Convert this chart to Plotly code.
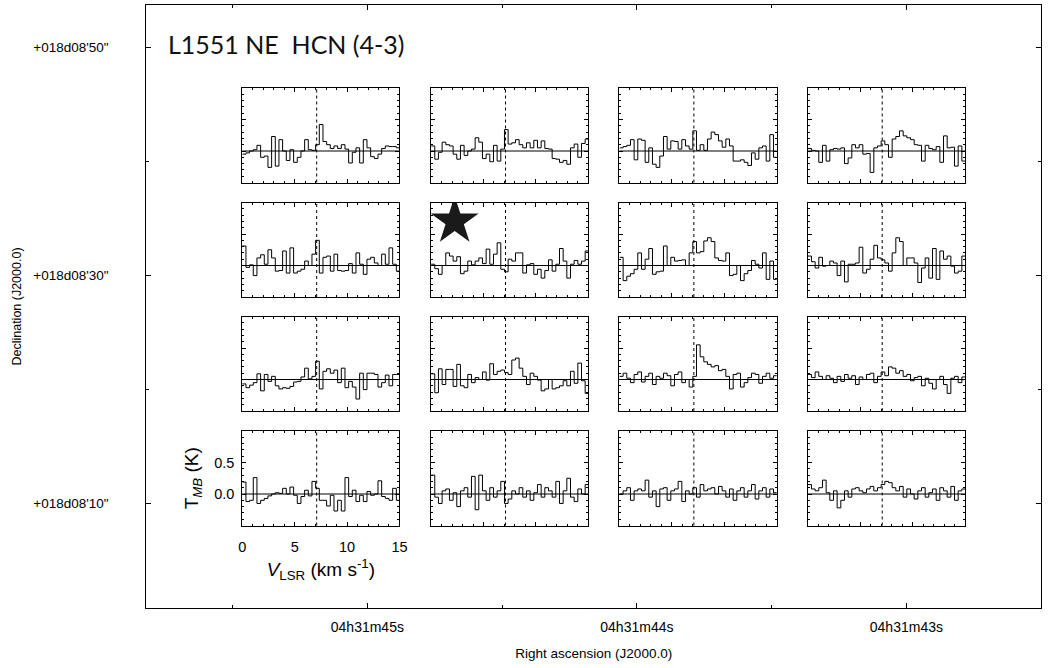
import numpy as np
import plotly.graph_objects as go

# ---- spectra: HCN (4-3) main-beam temperature (K), 0.35 km/s channels from 0 km/s ----
chan_width = 0.35
v_sys = 7.1

spec_r1c1 = [-0.05, -0.03, 0.00, 0.02, 0.09, -0.10, -0.08, -0.26, 0.23, -0.24, 0.18, 0.00, -0.15, 0.02,
             -0.18, -0.10, 0.00, 0.18, 0.02, 0.01, 0.10, 0.42, 0.15, 0.10, 0.04, 0.08, 0.04, 0.10, 0.03,
             -0.19, -0.02, 0.05, -0.19, 0.18, 0.05, -0.09, -0.12, -0.05, 0.04, 0.08, 0.07, 0.07, 0.05]
spec_r1c2 = [0.08, -0.13, -0.02, 0.14, 0.10, 0.08, -0.05, -0.13, 0.09, -0.07, 0.00, 0.03, 0.21, 0.14,
             -0.12, -0.05, -0.17, 0.09, -0.16, 0.03, 0.34, 0.11, 0.13, 0.18, 0.10, 0.05, 0.13, 0.05, 0.17,
             0.05, 0.16, 0.04, 0.03, -0.12, -0.13, -0.18, -0.15, -0.21, 0.05, 0.11, -0.10, 0.12, 0.19]
spec_r1c3 = [0.05, 0.07, 0.09, 0.18, -0.14, 0.19, 0.17, -0.18, 0.05, -0.21, -0.26, -0.08, 0.23, 0.03,
             0.16, 0.15, 0.03, 0.18, 0.08, 0.03, 0.32, 0.01, 0.10, 0.01, 0.19, 0.30, 0.26, 0.16, 0.06,
             0.19, 0.08, -0.16, -0.16, -0.14, -0.18, -0.23, -0.03, -0.13, 0.05, 0.08, -0.16, 0.26, -0.10]
spec_r1c4 = [0.04, 0.01, 0.00, -0.18, 0.09, -0.16, 0.02, 0.04, 0.03, 0.05, -0.20, -0.11, 0.10, 0.05,
             0.10, -0.05, -0.04, -0.34, 0.05, 0.08, 0.16, 0.10, -0.10, 0.19, 0.23, 0.32, 0.24, 0.21, 0.18,
             0.10, 0.09, -0.16, 0.09, 0.04, 0.02, 0.07, -0.18, 0.24, 0.05, 0.06, -0.24, 0.08, -0.16]
spec_r2c1 = [0.31, -0.03, 0.01, -0.16, 0.12, 0.17, 0.02, 0.25, 0.12, -0.09, -0.08, 0.23, -0.12, 0.28,
             -0.12, -0.09, -0.06, 0.07, 0.00, 0.18, 0.40, -0.12, 0.13, 0.15, -0.09, 0.18, -0.08, -0.09,
             -0.08, 0.03, -0.12, 0.20, 0.02, -0.14, 0.10, 0.13, 0.04, 0.00, 0.18, 0.02, 0.28, 0.02, -0.09]
spec_r2c2 = [0.02, -0.05, -0.14, 0.00, 0.20, 0.15, 0.07, 0.14, -0.13, -0.09, 0.07, 0.01, 0.07, 0.12,
             0.03, 0.26, 0.02, 0.18, 0.36, -0.06, -0.10, 0.10, 0.07, 0.20, 0.20, -0.12, 0.01, 0.03, -0.14,
             -0.06, -0.20, -0.08, 0.09, -0.09, 0.02, 0.27, 0.07, -0.20, 0.02, 0.08, 0.02, 0.07, 0.23]
spec_r2c3 = [0.13, -0.24, -0.17, -0.13, -0.06, 0.20, -0.06, 0.10, 0.27, -0.14, -0.10, -0.09, 0.31, 0.00,
             0.13, 0.07, 0.08, 0.09, 0.00, 0.20, 0.38, 0.20, 0.22, 0.39, 0.44, 0.38, 0.12, 0.08, 0.07,
             0.20, -0.16, -0.14, 0.00, -0.24, -0.13, -0.08, 0.08, 0.02, -0.04, 0.20, -0.22, 0.07, -0.22]
spec_r2c4 = [0.15, 0.06, -0.04, 0.13, -0.01, 0.00, 0.07, 0.04, -0.16, 0.07, -0.26, 0.02, 0.02, 0.04,
             0.29, -0.12, -0.06, 0.10, 0.32, 0.12, 0.09, 0.04, -0.09, 0.20, 0.44, 0.38, 0.00, 0.12, 0.12,
             0.04, -0.27, -0.04, 0.12, -0.20, 0.27, -0.22, 0.23, 0.10, 0.15, -0.01, -0.12, -0.09, 0.15]
spec_r3c1 = [-0.07, -0.13, -0.09, -0.05, 0.09, -0.18, 0.08, -0.03, 0.05, -0.10, -0.15, -0.13, -0.14, -0.11,
             -0.04, -0.03, 0.04, 0.18, 0.01, 0.05, 0.29, -0.15, 0.13, 0.17, 0.10, 0.15, -0.05, 0.18, -0.13,
             -0.03, -0.12, -0.31, 0.10, -0.16, 0.10, 0.10, 0.08, -0.12, -0.05, 0.07, -0.10, 0.08, 0.08]
spec_r3c2 = [0.09, -0.21, 0.17, -0.08, 0.16, 0.16, -0.11, 0.24, -0.10, -0.13, 0.08, -0.05, 0.03, 0.00,
             0.12, -0.01, 0.25, 0.08, 0.13, 0.15, 0.11, 0.08, 0.31, 0.34, 0.18, 0.05, -0.08, 0.10, 0.05,
             -0.01, -0.18, -0.15, 0.00, -0.15, -0.13, -0.10, -0.02, -0.10, 0.13, -0.06, 0.26, -0.02, -0.22]
spec_r3c3 = [0.05, 0.10, 0.02, -0.05, 0.08, 0.12, -0.04, 0.05, 0.10, -0.08, 0.05, 0.02, 0.10, 0.06,
             -0.10, 0.08, 0.12, -0.05, 0.00, -0.12, 0.05, 0.55, 0.36, 0.28, 0.24, 0.20, 0.22, 0.14, 0.16,
             0.05, -0.15, 0.08, 0.10, -0.12, -0.05, 0.03, 0.10, 0.08, -0.06, 0.05, 0.10, 0.02, 0.06]
spec_r3c4 = [0.08, 0.03, 0.12, 0.05, 0.00, 0.06, 0.02, -0.05, 0.05, -0.03, 0.08, 0.02, 0.06, -0.08,
             0.04, 0.00, 0.08, 0.10, -0.05, 0.05, 0.12, 0.06, 0.20, 0.18, 0.10, 0.14, 0.05, 0.08, -0.02,
             0.03, 0.05, -0.10, 0.02, -0.06, -0.15, 0.00, 0.05, -0.08, -0.22, 0.02, 0.05, -0.05, 0.04]
spec_r4c1 = [0.19, -0.12, -0.10, 0.26, -0.15, -0.10, -0.07, -0.03, 0.00, 0.02, 0.01, 0.09, 0.00, 0.11,
             -0.02, -0.15, -0.04, 0.06, -0.03, 0.20, 0.09, -0.10, -0.10, -0.19, -0.02, -0.27, -0.10, -0.27,
             0.26, -0.04, 0.06, -0.12, -0.02, -0.12, 0.04, -0.02, 0.00, 0.21, -0.04, -0.07, -0.10, 0.09, -0.10]
spec_r4c2 = [0.30, -0.05, -0.15, 0.05, 0.08, -0.10, 0.02, -0.20, 0.05, 0.10, -0.05, 0.28, -0.25, 0.30,
             0.05, -0.10, 0.10, -0.05, 0.05, 0.20, -0.15, -0.08, 0.05, 0.00, 0.10, -0.05, 0.05, -0.10, 0.02,
             0.15, -0.05, 0.10, 0.05, -0.05, 0.20, -0.15, 0.05, 0.25, -0.05, -0.12, 0.08, 0.00, 0.15]
spec_r4c3 = [0.00, 0.05, 0.10, -0.10, 0.05, 0.08, 0.05, 0.22, -0.05, 0.05, -0.20, 0.08, 0.10, -0.10,
             0.05, 0.08, 0.20, -0.12, 0.05, 0.00, 0.10, -0.05, 0.15, 0.05, 0.08, 0.10, 0.00, 0.12, 0.05,
             -0.05, 0.08, -0.10, 0.05, 0.10, -0.05, 0.05, 0.15, -0.08, 0.05, 0.10, -0.05, 0.08, 0.02]
spec_r4c4 = [0.15, 0.08, 0.05, 0.10, 0.22, 0.02, -0.10, 0.05, -0.22, -0.10, 0.05, -0.05, 0.08, 0.10,
             0.05, 0.02, 0.08, 0.12, 0.05, 0.10, 0.15, 0.20, 0.18, 0.10, 0.05, 0.12, -0.05, 0.08, 0.00,
             -0.08, 0.05, 0.10, -0.05, 0.02, 0.08, -0.10, 0.10, 0.05, -0.05, 0.12, -0.10, 0.05, 0.08]

grid = [
    [spec_r1c1, spec_r1c2, spec_r1c3, spec_r1c4],
    [spec_r2c1, spec_r2c2, spec_r2c3, spec_r2c4],
    [spec_r3c1, spec_r3c2, spec_r3c3, spec_r3c4],
    [spec_r4c1, spec_r4c2, spec_r4c3, spec_r4c4],
]

# main map axes: RA seconds (of 04h31m) and Dec arcsec (of +18d08')
ra_ticks = [45, 44, 43]
ra_labels = ["04h31m45s", "04h31m44s", "04h31m43s"]
dec_ticks = [10, 30, 50]
dec_labels = ["+018d08'10\"", "+018d08'30\"", "+018d08'50\""]

# continuum source position (panel row 2, column 2), in spectrum units
star_v, star_t = 2.25, 0.70

title_text = "L1551 NE  HCN (4-3)"

W, H = 1060, 668
SANS = "Liberation Sans, Arial, sans-serif"


def fx(px):
    return px / W


def fy(py):
    return 1 - py / H


fig = go.Figure()

layout = dict(
    width=W, height=H,
    margin=dict(l=0, r=0, t=0, b=0),
    paper_bgcolor="white", plot_bgcolor="rgba(0,0,0,0)",
    showlegend=False,
    font=dict(family=SANS, color="black", size=12),
)

# outer map frame
layout["xaxis"] = dict(
    domain=[fx(144), fx(1049)], range=[45.82, 42.50], showgrid=False, zeroline=False,
    tickvals=ra_ticks, ticktext=ra_labels, ticks="inside", ticklen=5, tickcolor="black",
    showline=True, linecolor="black", linewidth=1, mirror="allticks",
    minor=dict(dtick=0.5, ticks="inside", ticklen=3, tickcolor="black"),
    tickfont=dict(size=14), ticklabelstandoff=6,
    title=dict(text="Right ascension (J2000.0)", font=dict(size=13.5), standoff=14),
    automargin=False, fixedrange=True,
)
layout["yaxis"] = dict(
    domain=[fy(608), fy(5)], range=[0.79, 53.7], showgrid=False, zeroline=False,
    tickvals=dec_ticks, ticktext=dec_labels, ticks="inside", ticklen=5, tickcolor="black",
    showline=True, linecolor="black", linewidth=1, mirror="allticks",
    minor=dict(dtick=10, ticks="inside", ticklen=3, tickcolor="black"),
    tickfont=dict(size=13.5), ticklabelstandoff=34,
    title=dict(text="Declination (J2000.0)", font=dict(size=12.5), standoff=8),
    automargin=False, fixedrange=True,
)
fig.add_trace(go.Scatter(x=[44], y=[30], mode="markers", marker=dict(opacity=0),
                         xaxis="x", yaxis="y", hoverinfo="skip"))

col_left = [241, 432, 622.5, 813]
row_top = [88, 202.5, 316.5, 431]
pw, ph = 159, 94.5

shapes = []
k = 2
for r, row in enumerate(grid):
    for c, spec in enumerate(row):
        xa, ya = f"xaxis{k}", f"yaxis{k}"
        xr, yr = f"x{k}", f"y{k}"
        labelled = (r == 3 and c == 0)
        layout[xa] = dict(
            domain=[fx(col_left[c]), fx(col_left[c] + pw)], anchor=yr, range=[0, 15],
            showgrid=False, zeroline=False, showline=True, linecolor="black", linewidth=1,
            mirror="allticks", ticks="inside", ticklen=4, tickcolor="black", tickvals=[0, 5, 10, 15],
            minor=dict(dtick=1, ticks="inside", ticklen=2, tickcolor="black"),
            showticklabels=labelled, tickfont=dict(size=14.5), ticklabelstandoff=8, fixedrange=True,
        )
        layout[ya] = dict(
            domain=[fy(row_top[r] + ph), fy(row_top[r])], anchor=xr, range=[-0.5, 1.0],
            showgrid=False, zeroline=False, showline=True, linecolor="black", linewidth=1,
            mirror="allticks", ticks="inside", ticklen=4, tickcolor="black",
            tickvals=[0.0, 0.5], tickformat=".1f",
            minor=dict(dtick=0.1, ticks="inside", ticklen=2, tickcolor="black"),
            showticklabels=labelled, tickfont=dict(size=14.5), ticklabelstandoff=4, fixedrange=True,
        )
        if labelled:
            layout[xa]["title"] = dict(text="<i>V</i><sub>LSR</sub> (km s<sup>-1</sup>)",
                                       font=dict(size=19), standoff=8)
            layout[ya]["title"] = dict(text="T<sub><i>MB</i></sub> (K)", font=dict(size=19), standoff=10)
        edges = np.arange(len(spec) + 1) * chan_width
        tvals = list(spec) + [spec[-1]]
        fig.add_trace(go.Scatter(x=edges, y=tvals, mode="lines", line=dict(color="black", width=1, shape="hv"),
                                 xaxis=xr, yaxis=yr, hoverinfo="skip", cliponaxis=True))
        shapes.append(dict(type="line", xref=f"{xr} domain", yref=yr, x0=0, x1=1, y0=0, y1=0,
                           line=dict(color="black", width=1)))
        shapes.append(dict(type="line", xref=xr, yref=f"{yr} domain", x0=v_sys, x1=v_sys, y0=0, y1=1,
                           line=dict(color="black", width=1, dash="dot")))
        if r == 1 and c == 1:
            fig.add_trace(go.Scatter(x=[star_v], y=[star_t], mode="markers",
                                     marker=dict(symbol="star", size=36, color="#1a1a1a"),
                                     xaxis=xr, yaxis=yr, hoverinfo="skip"))
        k += 1

layout["shapes"] = shapes
layout["annotations"] = [dict(text=title_text, xref="paper", yref="paper", x=fx(164), y=fy(44),
                              xanchor="left", yanchor="middle", showarrow=False,
                              font=dict(family="Lato, Open Sans, sans-serif", size=25, color="#111"))]

fig.update_layout(**layout)
fig.write_html("out.html")
